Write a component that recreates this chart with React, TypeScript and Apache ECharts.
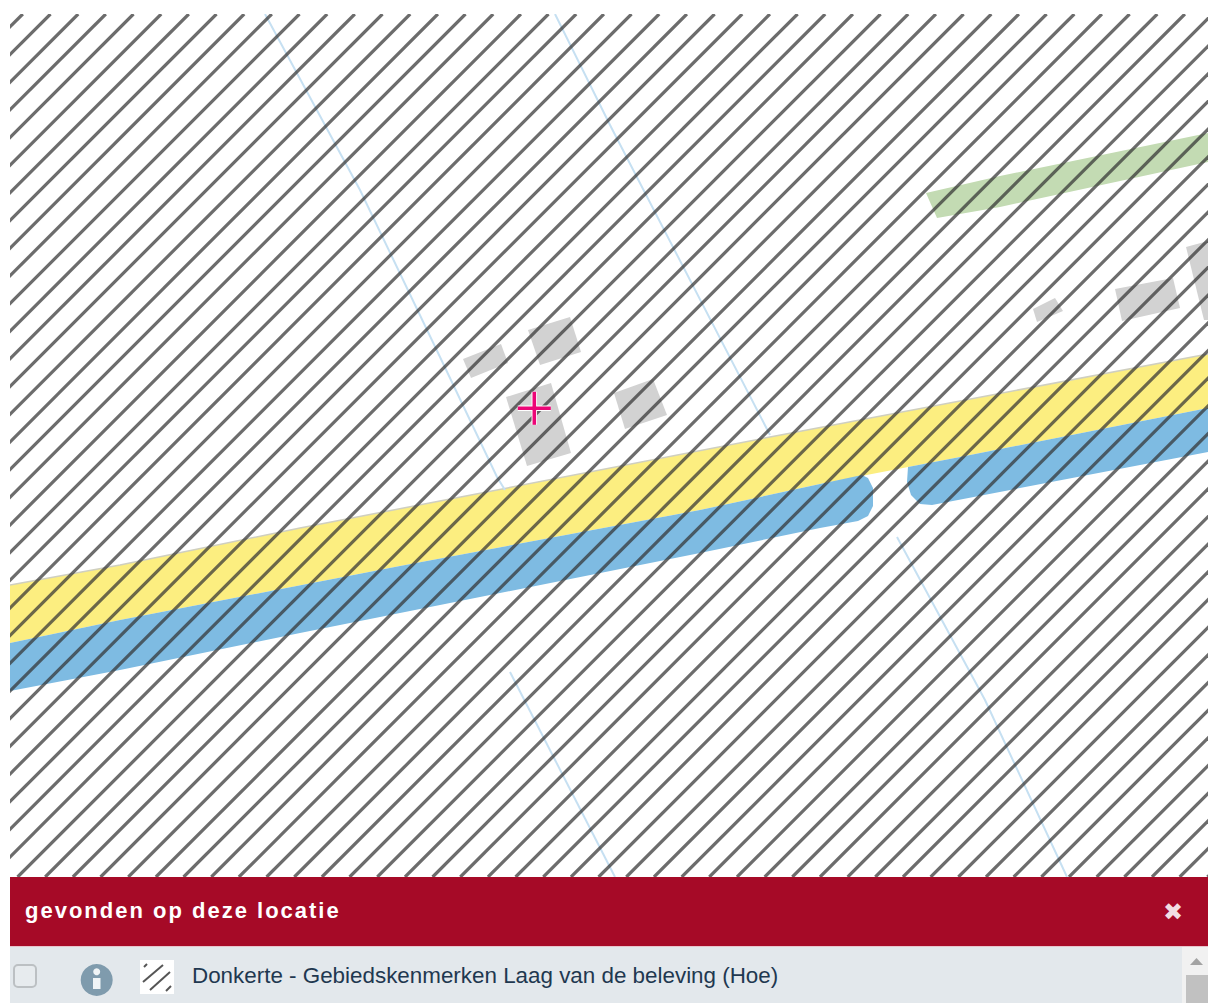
import React, { useEffect, useRef } from "react";
import * as echarts from "echarts";

const titleText = "gevonden op deze locatie";
const rowText = "Donkerte - Gebiedskenmerken Laag van de beleving (Hoe)";
const closeGlyph = "\u2716";

type P = number[][];

const hatchSums = [
  36.8, 64.5, 92.2, 119.8, 147.5, 175.2, 202.8, 230.5, 258.2, 285.8,
  313.5, 341.2, 368.8, 396.5, 424.2, 451.9, 479.5, 507.2, 534.9, 562.5,
  590.2, 617.9, 645.5, 673.2, 700.9, 728.6, 756.2, 783.9, 811.6, 839.2,
  866.9, 894.6, 922.2, 949.9, 977.6, 1005.3, 1032.9, 1060.6, 1088.3, 1115.9,
  1143.6, 1171.3, 1198.9, 1226.6, 1254.3, 1282, 1309.6, 1337.3, 1365, 1392.6,
  1420.3, 1448, 1475.6, 1503.3, 1531, 1558.7, 1586.3, 1614, 1641.7, 1669.3,
  1697, 1724.7, 1752.3, 1780, 1807.7, 1835.4, 1863, 1890.7, 1918.4, 1946,
  1973.7, 2001.4, 2029, 2056.7, 2084.4,
];

const yellowBand: P = [[10, 585], [120, 565], [300, 528], [445, 500], [770, 437], [1208, 354], [1208, 408], [960, 457], [820, 484], [700, 510], [400, 566], [120, 620], [10, 643]];
const yellowEdge: P = [[10, 585], [120, 565], [300, 528], [445, 500], [770, 437], [1208, 354]];
const blueLeft: P = [[10, 643], [120, 620], [400, 566], [700, 510], [820, 484], [862, 475], [868, 478], [873, 488], [873, 506], [868, 516], [858, 521], [820, 528], [700, 553], [300, 633], [120, 670], [10, 691]];
const blueRight: P = [[1208, 408], [960, 457], [908, 467], [907, 482], [911, 495], [920, 504], [932, 505], [1208, 452]];
const greenBand: P = [[926, 193], [1000, 176], [1208, 133], [1208, 162], [1000, 207], [937, 218]];
const buildings: P[] = [
  [[463, 359], [501, 344], [508, 363], [471, 378]],
  [[528, 330], [570, 317], [581, 352], [540, 365]],
  [[506, 397], [551, 383], [571, 453], [527, 466]],
  [[614, 393], [653, 379], [667, 415], [625, 429]],
  [[1033, 309], [1055, 298], [1063, 311], [1037, 322]],
  [[1115, 289], [1173, 278], [1180, 308], [1122, 321]],
  [[1186, 247], [1208, 241], [1208, 320], [1204, 320]],
];
const ditches: P[] = [
  [[265, 14], [360, 190], [440, 357], [497, 477], [505, 490]],
  [[555, 14], [610, 125], [770, 435]],
  [[897, 537], [985, 700], [1067, 877]],
  [[510, 672], [615, 877]],
];
const crossHair: P = [[534.3, 408.3]];

const fillShapes = [
  { pts: yellowBand, color: "#FCEE80" },
  { pts: blueLeft, color: "#7EBBE2" },
  { pts: blueRight, color: "#7EBBE2" },
  { pts: greenBand, color: "#C3DBB3" },
  ...buildings.map((pts) => ({ pts, color: "#D2D2D2" })),
];

export default function App() {
  const ref = useRef<HTMLDivElement>(null);
  useEffect(() => {
    document.documentElement.style.margin = "0";
    document.body.style.margin = "0";
    document.body.style.background = "#fff";
    const chart = echarts.init(ref.current!, null, { renderer: "svg" });
    const font = "'Liberation Sans', Arial, sans-serif";
    chart.setOption({
      animation: false,
      backgroundColor: "#ffffff",
      grid: { left: 10, top: 14, width: 1198, height: 863 },
      xAxis: { type: "value", min: 10, max: 1208, show: false },
      yAxis: { type: "value", min: 14, max: 877, inverse: true, show: false },
      series: [
        {
          type: "custom",
          clip: true,
          silent: true,
          data: fillShapes.map((_, i) => [i]),
          renderItem: (params: any, api: any) => {
            const s = fillShapes[params.dataIndex];
            return {
              type: "polygon",
              shape: { points: s.pts.map((p) => api.coord(p)) },
              style: { fill: s.color },
            };
          },
        },
        {
          type: "custom",
          clip: true,
          silent: true,
          data: [yellowEdge, ...ditches].map((_, i) => [i]),
          renderItem: (params: any, api: any) => {
            const i = params.dataIndex;
            const pts = i === 0 ? yellowEdge : ditches[i - 1];
            return {
              type: "polyline",
              shape: { points: pts.map((p) => api.coord(p)) },
              style: { fill: "none", stroke: i === 0 ? "#CFCFC0" : "#C6E0F2", lineWidth: i === 0 ? 1.5 : 2 },
            };
          },
        },
        {
          type: "custom",
          clip: true,
          silent: true,
          data: hatchSums.map((c) => [c]),
          renderItem: (_: any, api: any) => {
            const c = api.value(0);
            const a = api.coord([c - 14, 14]);
            const b = api.coord([c - 877, 877]);
            return {
              type: "line",
              shape: { x1: a[0], y1: a[1], x2: b[0], y2: b[1] },
              style: { stroke: "#333333", opacity: 0.72, lineWidth: 3.2 },
            };
          },
        },
        {
          type: "custom",
          clip: true,
          silent: true,
          data: crossHair,
          renderItem: (_: any, api: any) => {
            const c = api.coord([api.value(0), api.value(1)]);
            const arm = 16.5;
            return {
              type: "group",
              children: [
                { type: "line", shape: { x1: c[0] - arm, y1: c[1], x2: c[0] + arm, y2: c[1] }, style: { stroke: "#ffffff", lineWidth: 5.5 } },
                { type: "line", shape: { x1: c[0], y1: c[1] - arm, x2: c[0], y2: c[1] + arm }, style: { stroke: "#ffffff", lineWidth: 5.5 } },
                { type: "line", shape: { x1: c[0] - arm, y1: c[1], x2: c[0] + arm, y2: c[1] }, style: { stroke: "#EC0677", lineWidth: 3.6 } },
                { type: "line", shape: { x1: c[0], y1: c[1] - arm, x2: c[0], y2: c[1] + arm }, style: { stroke: "#EC0677", lineWidth: 3.6 } },
              ],
            };
          },
        },
      ],
      graphic: [
        { type: "rect", z: 100, shape: { x: 10, y: 877, width: 1198, height: 69 }, style: { fill: "#A60A27" } },
        { type: "rect", z: 100, shape: { x: 10, y: 946, width: 1198, height: 1 }, style: { fill: "#E8C4CC" } },
        { type: "rect", z: 100, shape: { x: 10, y: 947, width: 1172, height: 56 }, style: { fill: "#E3E8EC" } },
        { type: "rect", z: 100, shape: { x: 1182, y: 947, width: 26, height: 56 }, style: { fill: "#F1F1F1" } },
        { type: "polygon", z: 101, shape: { points: [[1190, 965], [1203, 965], [1196.5, 958]] }, style: { fill: "#A3A3A3" } },
        { type: "rect", z: 101, shape: { x: 1186, y: 975, width: 22, height: 28 }, style: { fill: "#C1C1C1" } },
        { type: "text", z: 102, style: { x: 25, y: 910, text: titleText, fill: "#ffffff", font: `bold 22px ${font}`, textVerticalAlign: "middle" } },
        { type: "text", z: 102, style: { x: 1173, y: 912, text: closeGlyph, fill: "#F2DDE2", font: "24px 'DejaVu Sans'", textAlign: "center", textVerticalAlign: "middle" } },
        { type: "rect", z: 102, shape: { x: 14, y: 965, width: 22, height: 22, r: 4 }, style: { fill: "#E7EBEE", stroke: "#BCC0C3", lineWidth: 2 } },
        { type: "circle", z: 102, shape: { cx: 96.7, cy: 980, r: 16 }, style: { fill: "#7F9BAD" } },
        { type: "circle", z: 103, shape: { cx: 96.7, cy: 971.7, r: 3.5 }, style: { fill: "#F0F4F6" } },
        { type: "rect", z: 103, shape: { x: 93, y: 978, width: 7.5, height: 11 }, style: { fill: "#F0F4F6" } },
        { type: "rect", z: 102, shape: { x: 140, y: 960, width: 34, height: 34 }, style: { fill: "#ffffff" } },
        { type: "line", z: 103, shape: { x1: 143, y1: 982, x2: 163, y2: 965 }, style: { stroke: "#555555", lineWidth: 2 } },
        { type: "line", z: 103, shape: { x1: 150, y1: 990, x2: 170, y2: 972 }, style: { stroke: "#555555", lineWidth: 2 } },
        { type: "line", z: 103, shape: { x1: 144, y1: 967, x2: 147, y2: 964 }, style: { stroke: "#555555", lineWidth: 2 } },
        { type: "line", z: 103, shape: { x1: 166, y1: 991, x2: 171, y2: 986 }, style: { stroke: "#555555", lineWidth: 2 } },
        { type: "text", z: 102, style: { x: 192, y: 975, text: rowText, fill: "#1F3850", font: `22.4px ${font}`, textVerticalAlign: "middle" } },
      ],
    });
    ref.current!.querySelectorAll("text").forEach((t) => {
      if (t.textContent === titleText) t.style.letterSpacing = "2px";
    });
    return () => chart.dispose();
  }, []);
  return <div ref={ref} style={{ width: 1208, height: 1003, overflow: "hidden" }} />;
}
